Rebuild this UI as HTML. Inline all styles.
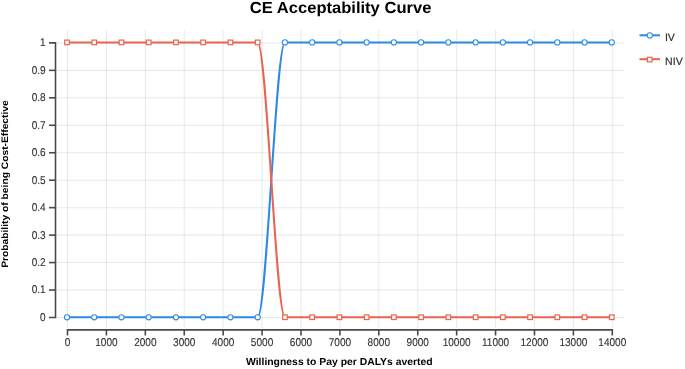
<!DOCTYPE html>
<html><head><meta charset="utf-8"><style>
html,body{margin:0;padding:0;background:#fff;}
svg{display:block;will-change:transform;font-family:"Liberation Sans",sans-serif;text-rendering:geometricPrecision;}
</style></head><body>
<svg width="685" height="369" viewBox="0 0 685 369">
<rect width="685" height="369" fill="#fff"/>
<g stroke="#000" stroke-opacity="0.085" stroke-width="1.05"><line x1="55.5" y1="317.50" x2="624" y2="317.50"/><line x1="55.5" y1="290.04" x2="624" y2="290.04"/><line x1="55.5" y1="262.58" x2="624" y2="262.58"/><line x1="55.5" y1="235.12" x2="624" y2="235.12"/><line x1="55.5" y1="207.66" x2="624" y2="207.66"/><line x1="55.5" y1="180.20" x2="624" y2="180.20"/><line x1="55.5" y1="152.74" x2="624" y2="152.74"/><line x1="55.5" y1="125.28" x2="624" y2="125.28"/><line x1="55.5" y1="97.82" x2="624" y2="97.82"/><line x1="55.5" y1="70.36" x2="624" y2="70.36"/><line x1="55.5" y1="42.90" x2="624" y2="42.90"/><line x1="67.50" y1="29.7" x2="67.50" y2="328.0"/><line x1="106.41" y1="29.7" x2="106.41" y2="328.0"/><line x1="145.33" y1="29.7" x2="145.33" y2="328.0"/><line x1="184.24" y1="29.7" x2="184.24" y2="328.0"/><line x1="223.16" y1="29.7" x2="223.16" y2="328.0"/><line x1="262.07" y1="29.7" x2="262.07" y2="328.0"/><line x1="300.99" y1="29.7" x2="300.99" y2="328.0"/><line x1="339.90" y1="29.7" x2="339.90" y2="328.0"/><line x1="378.81" y1="29.7" x2="378.81" y2="328.0"/><line x1="417.73" y1="29.7" x2="417.73" y2="328.0"/><line x1="456.64" y1="29.7" x2="456.64" y2="328.0"/><line x1="495.56" y1="29.7" x2="495.56" y2="328.0"/><line x1="534.47" y1="29.7" x2="534.47" y2="328.0"/><line x1="573.39" y1="29.7" x2="573.39" y2="328.0"/><line x1="612.30" y1="29.7" x2="612.30" y2="328.0"/></g>
<g stroke="#4a4a4a" stroke-width="1.6" fill="none"><path d="M49.0,317.50H55.5V42.90H49.0"/><path d="M49.0,290.04H55.5"/><path d="M49.0,262.58H55.5"/><path d="M49.0,235.12H55.5"/><path d="M49.0,207.66H55.5"/><path d="M49.0,180.20H55.5"/><path d="M49.0,152.74H55.5"/><path d="M49.0,125.28H55.5"/><path d="M49.0,97.82H55.5"/><path d="M49.0,70.36H55.5"/><path d="M67.50,335.5V329.9H612.30V335.5"/><path d="M106.41,329.9V335.5"/><path d="M145.33,329.9V335.5"/><path d="M184.24,329.9V335.5"/><path d="M223.16,329.9V335.5"/><path d="M262.07,329.9V335.5"/><path d="M300.99,329.9V335.5"/><path d="M339.90,329.9V335.5"/><path d="M378.81,329.9V335.5"/><path d="M417.73,329.9V335.5"/><path d="M456.64,329.9V335.5"/><path d="M495.56,329.9V335.5"/><path d="M534.47,329.9V335.5"/><path d="M573.39,329.9V335.5"/></g>
<g font-size="11.3" fill="#333" stroke="#333" stroke-width="0.12" transform="scale(0.89,1)"><text x="51.35" y="320.95" text-anchor="end">0</text><text x="51.35" y="293.49" text-anchor="end">0.1</text><text x="51.35" y="266.03" text-anchor="end">0.2</text><text x="51.35" y="238.57" text-anchor="end">0.3</text><text x="51.35" y="211.11" text-anchor="end">0.4</text><text x="51.35" y="183.65" text-anchor="end">0.5</text><text x="51.35" y="156.19" text-anchor="end">0.6</text><text x="51.35" y="128.73" text-anchor="end">0.7</text><text x="51.35" y="101.27" text-anchor="end">0.8</text><text x="51.35" y="73.81" text-anchor="end">0.9</text><text x="51.35" y="46.35" text-anchor="end">1</text><text x="75.84" y="345.7" text-anchor="middle">0</text><text x="119.57" y="345.7" text-anchor="middle">1000</text><text x="163.29" y="345.7" text-anchor="middle">2000</text><text x="207.01" y="345.7" text-anchor="middle">3000</text><text x="250.74" y="345.7" text-anchor="middle">4000</text><text x="294.46" y="345.7" text-anchor="middle">5000</text><text x="338.19" y="345.7" text-anchor="middle">6000</text><text x="381.91" y="345.7" text-anchor="middle">7000</text><text x="425.63" y="345.7" text-anchor="middle">8000</text><text x="469.36" y="345.7" text-anchor="middle">9000</text><text x="513.08" y="345.7" text-anchor="middle">10000</text><text x="556.81" y="345.7" text-anchor="middle">11000</text><text x="600.53" y="345.7" text-anchor="middle">12000</text><text x="644.25" y="345.7" text-anchor="middle">13000</text><text x="687.98" y="345.7" text-anchor="middle">14000</text></g>
<path d="M67.00,317.25L94.24,317.25L121.48,317.25L148.72,317.25L175.96,317.25L203.20,317.25L230.44,317.25L257.68,317.25C266.76,317.25 275.84,42.40 284.92,42.40L312.16,42.40L339.40,42.40L366.64,42.40L393.88,42.40L421.12,42.40L448.36,42.40L475.60,42.40L502.84,42.40L530.08,42.40L557.32,42.40L584.56,42.40L611.80,42.40" fill="none" stroke="#2b8ae5" stroke-width="2.0"/><g fill="#fff" stroke="#2b8ae5" stroke-width="1.05"><circle cx="67.00" cy="317.25" r="2.6"/><circle cx="94.24" cy="317.25" r="2.6"/><circle cx="121.48" cy="317.25" r="2.6"/><circle cx="148.72" cy="317.25" r="2.6"/><circle cx="175.96" cy="317.25" r="2.6"/><circle cx="203.20" cy="317.25" r="2.6"/><circle cx="230.44" cy="317.25" r="2.6"/><circle cx="257.68" cy="317.25" r="2.6"/><circle cx="284.92" cy="42.40" r="2.6"/><circle cx="312.16" cy="42.40" r="2.6"/><circle cx="339.40" cy="42.40" r="2.6"/><circle cx="366.64" cy="42.40" r="2.6"/><circle cx="393.88" cy="42.40" r="2.6"/><circle cx="421.12" cy="42.40" r="2.6"/><circle cx="448.36" cy="42.40" r="2.6"/><circle cx="475.60" cy="42.40" r="2.6"/><circle cx="502.84" cy="42.40" r="2.6"/><circle cx="530.08" cy="42.40" r="2.6"/><circle cx="557.32" cy="42.40" r="2.6"/><circle cx="584.56" cy="42.40" r="2.6"/><circle cx="611.80" cy="42.40" r="2.6"/></g><path d="M67.00,42.40L94.24,42.40L121.48,42.40L148.72,42.40L175.96,42.40L203.20,42.40L230.44,42.40L257.68,42.40C266.76,42.40 275.84,317.25 284.92,317.25L312.16,317.25L339.40,317.25L366.64,317.25L393.88,317.25L421.12,317.25L448.36,317.25L475.60,317.25L502.84,317.25L530.08,317.25L557.32,317.25L584.56,317.25L611.80,317.25" fill="none" stroke="#e9644f" stroke-width="2.0"/><g fill="#fff" stroke="#e9644f" stroke-width="1.2"><rect x="64.70" y="40.10" width="4.6" height="4.6"/><rect x="91.94" y="40.10" width="4.6" height="4.6"/><rect x="119.18" y="40.10" width="4.6" height="4.6"/><rect x="146.42" y="40.10" width="4.6" height="4.6"/><rect x="173.66" y="40.10" width="4.6" height="4.6"/><rect x="200.90" y="40.10" width="4.6" height="4.6"/><rect x="228.14" y="40.10" width="4.6" height="4.6"/><rect x="255.38" y="40.10" width="4.6" height="4.6"/><rect x="282.62" y="314.95" width="4.6" height="4.6"/><rect x="309.86" y="314.95" width="4.6" height="4.6"/><rect x="337.10" y="314.95" width="4.6" height="4.6"/><rect x="364.34" y="314.95" width="4.6" height="4.6"/><rect x="391.58" y="314.95" width="4.6" height="4.6"/><rect x="418.82" y="314.95" width="4.6" height="4.6"/><rect x="446.06" y="314.95" width="4.6" height="4.6"/><rect x="473.30" y="314.95" width="4.6" height="4.6"/><rect x="500.54" y="314.95" width="4.6" height="4.6"/><rect x="527.78" y="314.95" width="4.6" height="4.6"/><rect x="555.02" y="314.95" width="4.6" height="4.6"/><rect x="582.26" y="314.95" width="4.6" height="4.6"/><rect x="609.50" y="314.95" width="4.6" height="4.6"/></g>

<path d="M639.5,35.3H660" stroke="#2b8ae5" stroke-width="2.0"/>
<circle cx="649.8" cy="35.4" r="2.6" fill="#fff" stroke="#2b8ae5" stroke-width="1.05"/>
<text x="664.9" y="40.95" font-size="10.6" fill="#333" stroke="#333" stroke-width="0.2">IV</text>
<path d="M639.5,59.2H660" stroke="#e9644f" stroke-width="2.0"/>
<rect x="647.4000000000001" y="57.300000000000004" width="4.6" height="4.6" fill="#fff" stroke="#e9644f" stroke-width="1.2"/>
<text x="665.1" y="64.9" font-size="10.6" fill="#333" stroke="#333" stroke-width="0.2">NIV</text>


<text x="340.6" y="13.3" text-anchor="middle" font-size="16" font-weight="bold" fill="#000" textLength="181.5" lengthAdjust="spacingAndGlyphs">CE Acceptability Curve</text>
<text x="339.35" y="364.5" text-anchor="middle" font-size="10.2" font-weight="bold" fill="#000" textLength="186.7" lengthAdjust="spacingAndGlyphs">Willingness to Pay per DALYs averted</text>
<text transform="translate(8.1,184.05) rotate(-90)" text-anchor="middle" font-size="9.4" font-weight="bold" fill="#000" textLength="167.6" lengthAdjust="spacingAndGlyphs">Probability of being Cost-Effective</text>

</svg>
</body></html>
